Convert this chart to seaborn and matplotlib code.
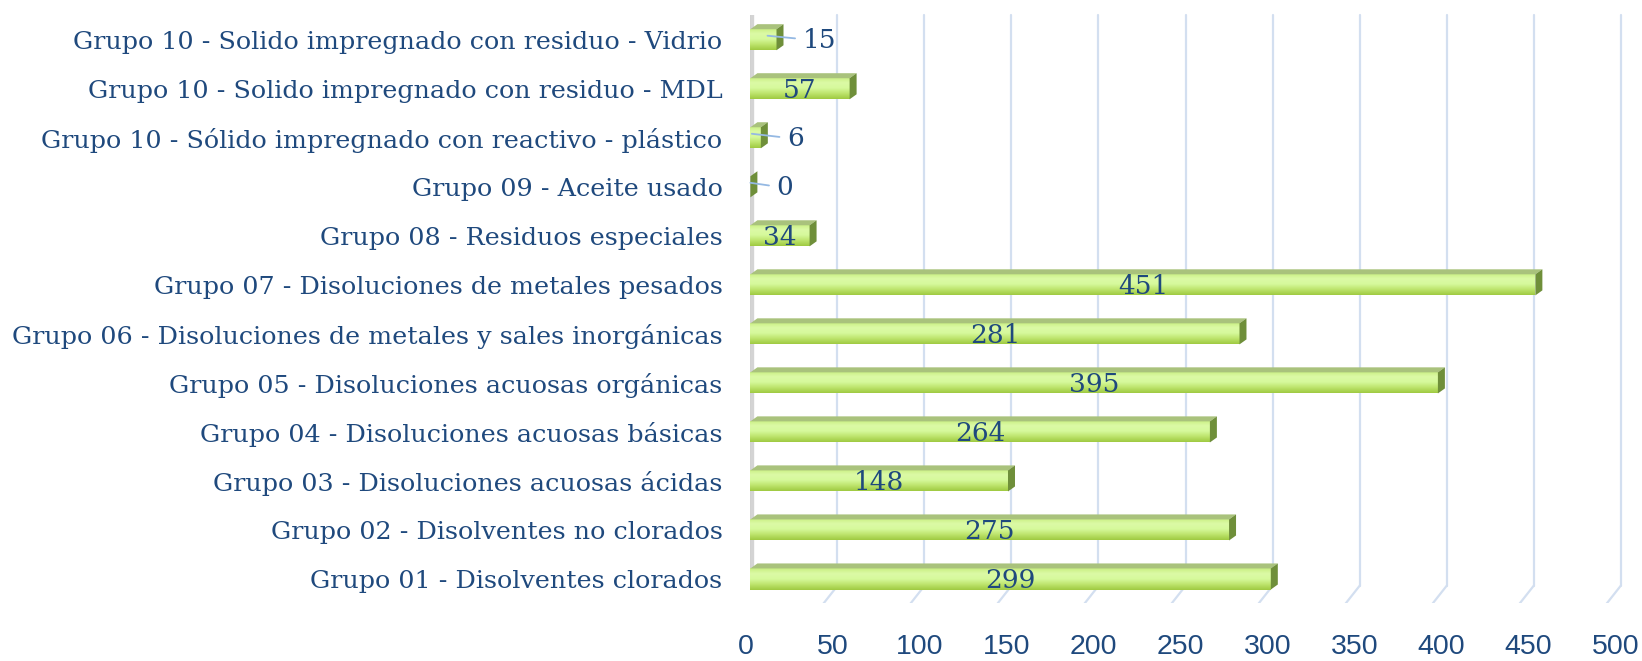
import numpy as np
import pandas as pd
import matplotlib
matplotlib.use("Agg")
import matplotlib.pyplot as plt
import seaborn as sns
from matplotlib.patches import Polygon
from matplotlib import transforms
from matplotlib.colors import LinearSegmentedColormap

categories = [
    "Grupo 10 - Solido impregnado con residuo - Vidrio",
    "Grupo 10 - Solido impregnado con residuo - MDL",
    "Grupo 10 - Sólido impregnado con reactivo - plástico",
    "Grupo 09 - Aceite usado",
    "Grupo 08 - Residuos especiales",
    "Grupo 07 - Disoluciones de metales pesados",
    "Grupo 06 - Disoluciones de metales y sales inorgánicas",
    "Grupo 05 - Disoluciones acuosas orgánicas",
    "Grupo 04 - Disoluciones acuosas básicas",
    "Grupo 03 - Disoluciones acuosas ácidas",
    "Grupo 02 - Disolventes no clorados",
    "Grupo 01 - Disolventes clorados",
]
values = [15, 57, 6, 0, 34, 451, 281, 395, 264, 148, 275, 299]
x_ticks = [0, 50, 100, 150, 200, 250, 300, 350, 400, 450, 500]

TXT = "#1f497d"
GRID = "#d3dff0"

sns.set_theme(style="white")
plt.rcParams["font.family"] = ["DejaVu Serif"]

DPI = 100
W, H = 1642, 661
fig = plt.figure(figsize=(W / DPI, H / DPI), dpi=DPI)
rect = [0.457, 0.087, 0.530, 0.890]
# front-plane axis carrying the tick labels (slightly left of the back wall)
axf = fig.add_axes([rect[0] - 5 / W, rect[1], rect[2], rect[3]])
ax = fig.add_axes(rect)

df = pd.DataFrame({"cat": categories, "val": values})
sns.barplot(data=df, y="cat", x="val", orient="h", ax=ax, color="#b8e063",
            width=0.43, saturation=1, zorder=3, linewidth=0)

ax.set_xlim(0, 500)
ax.set_ylim(len(categories) - 0.5, -0.5)
ax.set_autoscale_on(False)
ax.set_xlabel("")
ax.set_ylabel("")
ax.patch.set_alpha(0)
for s in ax.spines.values():
    s.set_visible(False)
ax.set_xticks(x_ticks)
ax.tick_params(axis="x", length=0, labelbottom=False)
ax.tick_params(axis="y", length=0, pad=20, labelsize=18.3, labelcolor=TXT)

axf.set_xlim(0, 500)
axf.set_yticks([])
axf.set_xticks(x_ticks)
axf.set_xticklabels([str(t) for t in x_ticks], color=TXT, fontsize=20.5,
                    family=["Liberation Sans", "DejaVu Sans"])
axf.tick_params(axis="x", length=0, pad=22)
for s in axf.spines.values():
    s.set_visible(False)
axf.patch.set_alpha(0)

# gridlines with perspective floor slant
bl = transforms.blended_transform_factory(ax.transData, ax.transAxes)
for v in x_ticks[1:]:
    ax.plot([v, v], [1.0, 0.03], transform=bl, color=GRID, lw=1.6, zorder=1, clip_on=False)
    p0 = bl.transform((v, 0.03))
    ax.add_line(plt.Line2D([p0[0], p0[0] - 15], [p0[1], p0[1] - 19], transform=None,
                           color=GRID, lw=1.6, zorder=1))

# left wall
p_top = bl.transform((0, 1.0))
p_bot = bl.transform((0, 0.03))
ax.add_line(plt.Line2D([p_top[0], p_bot[0]], [p_top[1], p_bot[1]], transform=None,
                       color="#d4d4d4", lw=6, zorder=2, solid_capstyle="butt"))
ax.add_line(plt.Line2D([p_top[0] - 1, p_bot[0] - 1], [p_top[1], p_bot[1]], transform=None,
                       color="#a0a0a0", lw=1.5, zorder=2))
ax.add_line(plt.Line2D([p_bot[0], p_bot[0] - 15], [p_bot[1], p_bot[1] - 19], transform=None,
                       color=GRID, lw=1.6, zorder=1))

# 3D bar faces + gradient
cmap = LinearSegmentedColormap.from_list(
    "bar", ["#9fca42", "#bde46c", "#d6f99c", "#dcfaa6", "#c8ee80"])
grad = np.linspace(0, 1, 64).reshape(-1, 1)
dx, dy = 7, 5
for patch in ax.patches:
    b = patch.get_bbox()
    x0, x1 = b.x0, b.x1
    ytop, ybot = min(b.y0, b.y1), max(b.y0, b.y1)
    im = ax.imshow(grad, extent=(x0, x1, ybot, ytop), aspect="auto", cmap=cmap,
                   origin="lower", zorder=3.5, interpolation="bilinear")
    im.set_clip_path(patch)
    (X0, YT) = ax.transData.transform((x0, ytop))
    (X1, YB) = ax.transData.transform((x1, ybot))
    top = Polygon([(X0, YT), (X1, YT), (X1 + dx, YT + dy), (X0 + dx, YT + dy)],
                  closed=True, transform=None, facecolor="#a9c27c", edgecolor="none", zorder=3.6)
    side = Polygon([(X1, YT), (X1 + dx, YT + dy), (X1 + dx, YB + dy), (X1, YB)],
                   closed=True, transform=None, facecolor="#6f8f3a", edgecolor="none", zorder=3.6)
    ax.add_patch(top)
    ax.add_patch(side)

# data labels
for i, v in enumerate(values):
    if v >= 30:
        ax.text(v / 2, i + 0.04, str(v), ha="center", va="center", color=TXT,
                fontsize=19, zorder=5)
    else:
        bar_px = ax.transData.transform((v, 0))[0] - ax.transData.transform((0, 0))[0]
        back = min(9.0, bar_px)
        start_tr = ax.transData + transforms.ScaledTranslation(-back / DPI, 4 / DPI,
                                                               fig.dpi_scale_trans)
        ax.annotate(str(v), xy=(v, i), xycoords=start_tr,
                    xytext=(v, i + 0.02), textcoords=ax.transData + transforms.ScaledTranslation(
                        26 / DPI, 0, fig.dpi_scale_trans),
                    ha="left", va="center", color=TXT, fontsize=19, zorder=5,
                    arrowprops=dict(arrowstyle="-", color="#95b9e3", lw=1.3,
                                    shrinkA=3, shrinkB=0))

fig.savefig("out.png", dpi=DPI)
